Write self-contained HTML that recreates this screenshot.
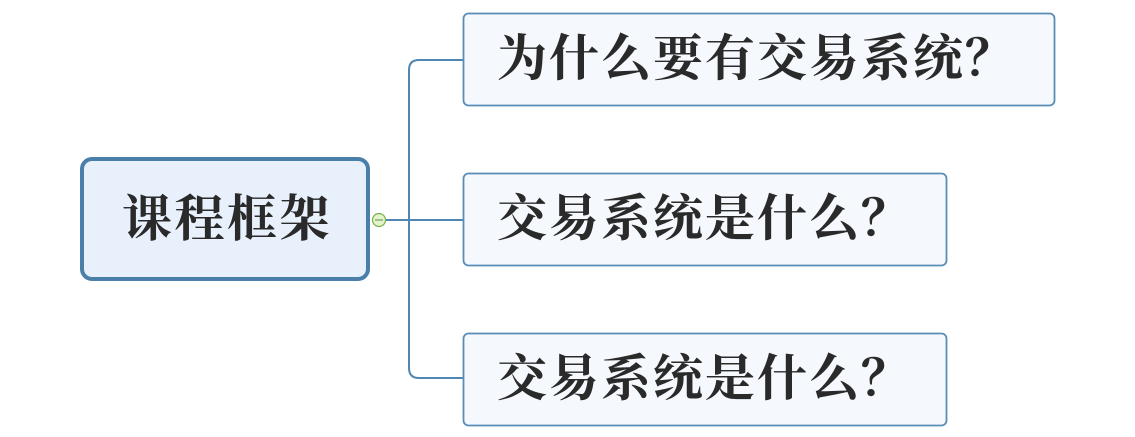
<!DOCTYPE html>
<html>
<head>
<meta charset="utf-8">
<style>
html,body{margin:0;padding:0;background:#fff;}
body{width:1135px;height:437px;overflow:hidden;}
svg{display:block;}
text{font-family:"Liberation Serif","Noto Serif CJK SC","Noto Sans CJK SC",serif;font-weight:700;fill:#2a2a2a;}
</style>
</head>
<body>
<svg width="1135" height="437" viewBox="0 0 1135 437" xmlns="http://www.w3.org/2000/svg">
  <!-- connectors -->
  <g fill="none" stroke="#4f87b2" stroke-width="2">
    <path d="M385 220 H463"/>
    <path d="M463 60 H419 Q409 60 409 70 V368 Q409 378 419 378 H463"/>
  </g>
  <!-- central node -->
  <rect x="82" y="159" width="286" height="120" rx="10" ry="10" fill="#e8f1fb" stroke="#4a7fa9" stroke-width="4"/>
  <text x="122" y="236" font-size="50" letter-spacing="2.5">课程框架</text>
  <!-- collapse circle -->
  <circle cx="379" cy="220" r="6.5" fill="#e4f3cf" stroke="#79b147" stroke-width="1.2"/>
  <line x1="375" y1="220" x2="383" y2="220" stroke="#5b8f33" stroke-width="1"/>
  <!-- child boxes -->
  <rect x="463.5" y="13.5" width="591" height="92" rx="5" ry="5" fill="#f5f9fd" stroke="#5a8db5" stroke-width="1.8"/>
  <rect x="463.5" y="173.5" width="483" height="92" rx="5" ry="5" fill="#f5f9fd" stroke="#5a8db5" stroke-width="1.8"/>
  <rect x="463.5" y="333.5" width="483" height="92" rx="5" ry="5" fill="#f5f9fd" stroke="#5a8db5" stroke-width="1.8"/>
  <text x="497" y="75.5" font-size="50" letter-spacing="2">为什么要有交易系统？</text>
  <text x="497" y="235.5" font-size="50" letter-spacing="2">交易系统是什么？</text>
  <text x="497" y="395.5" font-size="50" letter-spacing="2">交易系统是什么？</text>
</svg>
</body>
</html>
